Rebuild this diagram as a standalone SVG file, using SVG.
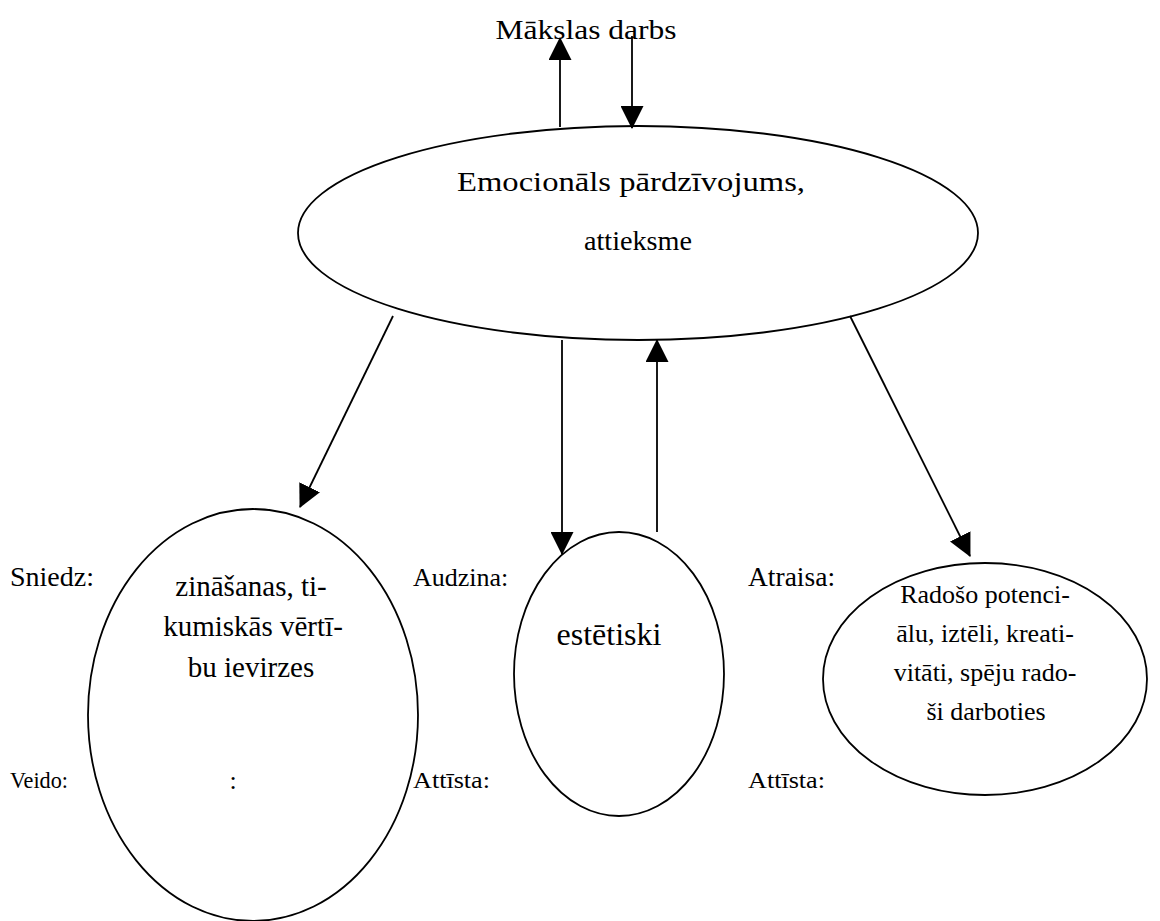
<svg xmlns="http://www.w3.org/2000/svg" width="1160" height="921" viewBox="0 0 1160 921">
<style>
.n{fill:#fff;stroke:#000;stroke-width:1.8}
.c{stroke:#000;stroke-width:1.8;fill:none}
text{font-family:"Liberation Serif","Times New Roman",serif;fill:#000}
.t{text-anchor:middle}
</style>
<defs>
<marker id="ah" markerUnits="userSpaceOnUse" markerWidth="23" markerHeight="23" viewBox="0 0 23 23" refX="22" refY="11.5" orient="auto">
<path d="M0,0 L23,11.5 L0,23 z" fill="#000"/>
</marker>
</defs>
<rect width="1160" height="921" fill="#fff"/>
<text x="586" y="39" class="t" font-size="27" textLength="181" lengthAdjust="spacingAndGlyphs">Mākslas darbs</text>
<g id="top">
<ellipse class="n" cx="638" cy="233" rx="340" ry="107"/>
<text class="t" x="631" y="191" font-size="28" textLength="348" lengthAdjust="spacingAndGlyphs">Emocionāls pārdzīvojums,</text>
<text class="t" x="638" y="250" font-size="28" textLength="108" lengthAdjust="spacingAndGlyphs">attieksme</text>
</g>
<g id="left">
<ellipse class="n" cx="253" cy="715" rx="165" ry="206"/>
<text class="t" x="251" y="596" font-size="29">zināšanas, ti-</text>
<text class="t" x="253" y="636" font-size="29">kumiskās vērtī-</text>
<text class="t" x="251" y="677" font-size="29">bu ievirzes</text>
<text class="t" x="233" y="789" font-size="26">:</text>
</g>
<g id="middle">
<ellipse class="n" cx="619" cy="674" rx="105" ry="142"/>
<text class="t" x="609" y="645" font-size="32">estētiski</text>
</g>
<g id="right">
<ellipse class="n" cx="985" cy="679" rx="162" ry="116"/>
<text class="t" x="985" y="603" font-size="26">Radošo potenci-</text>
<text class="t" x="985" y="642" font-size="26">ālu, iztēli, kreati-</text>
<text class="t" x="985" y="681" font-size="26">vitāti, spēju rado-</text>
<text class="t" x="986" y="720" font-size="26">ši darboties</text>
</g>
<g id="labels">
<text x="10" y="586" font-size="28">Sniedz:</text>
<text x="10" y="788" font-size="23" textLength="58" lengthAdjust="spacingAndGlyphs">Veido:</text>
<text x="413" y="586" font-size="26">Audzina:</text>
<text x="413" y="788" font-size="23" textLength="77" lengthAdjust="spacingAndGlyphs">Attīsta:</text>
<text x="748" y="586" font-size="27.5">Atraisa:</text>
<text x="748" y="788" font-size="23" textLength="77" lengthAdjust="spacingAndGlyphs">Attīsta:</text>
</g>
<g id="connectors">
<line class="c" x1="560" y1="127" x2="560" y2="38" marker-end="url(#ah)"/>
<line class="c" x1="632" y1="36" x2="632" y2="128" marker-end="url(#ah)"/>
<line class="c" x1="393" y1="316" x2="300" y2="507" marker-end="url(#ah)"/>
<line class="c" x1="562" y1="340" x2="562" y2="554" marker-end="url(#ah)"/>
<line class="c" x1="657" y1="532" x2="657" y2="340" marker-end="url(#ah)"/>
<line class="c" x1="850" y1="316" x2="970" y2="556" marker-end="url(#ah)"/>
</g>
</svg>
